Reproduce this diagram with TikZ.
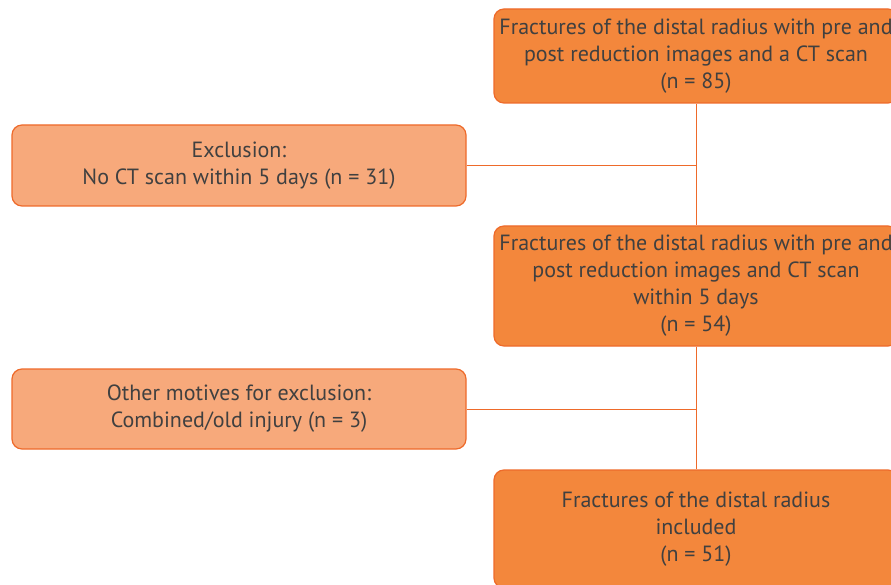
\documentclass[tikz,border=0pt]{standalone}
\usepackage{fontspec}
\setmainfont{PT Sans}
\usetikzlibrary{positioning}
\definecolor{mainfill}{HTML}{F3873C}
\definecolor{exclfill}{HTML}{F7A97B}
\definecolor{edgecol}{HTML}{EE6A2A}
\definecolor{textcol}{HTML}{404040}
\def\mainw{404pt}
\def\exclw{454pt}

\begin{document}
\begin{tikzpicture}[x=1pt,y=1pt,
	stepbox/.style={draw=edgecol,line width=1.2pt,rounded corners=10pt,
		text=textcol,align=center,font=\fontsize{22}{27}\selectfont,
		inner sep=0pt},
	mainbox/.style={stepbox,fill=mainfill,minimum width=\mainw},
	exclbox/.style={stepbox,fill=exclfill,minimum width=\exclw},
	link/.style={draw=edgecol,line width=1pt}]
\clip (0,0) rectangle (891,-585);
% inclusion flow
\node [mainbox,minimum height=94pt] (frac) at (696,-56)
	{Fractures of the distal radius with pre and\\post reduction images and a CT scan\\(n = 85)};
\node [mainbox,minimum height=120pt] (within) at (696,-286)
	{Fractures of the distal radius with pre and\\post reduction images and CT scan\\within 5 days\\(n = 54)};
\node [mainbox,minimum height=118pt] (incl) at (696,-529)
	{Fractures of the distal radius\\included\\(n = 51)};
% exclusions
\node [exclbox,minimum height=81pt] (noct) at (239,-165.5)
	{Exclusion:\\No CT scan within 5 days (n = 31)};
\node [exclbox,minimum height=80pt] (other) at (239,-409)
	{Other motives for exclusion:\\Combined/old injury (n = 3)};
\draw [link] (frac) -- (within);
\draw [link] (within) -- (incl);
\draw [link] (noct.east) -- (noct.east -| frac.south);
\draw [link] (other.east) -- (other.east -| within.south);
\end{tikzpicture}
\end{document}
